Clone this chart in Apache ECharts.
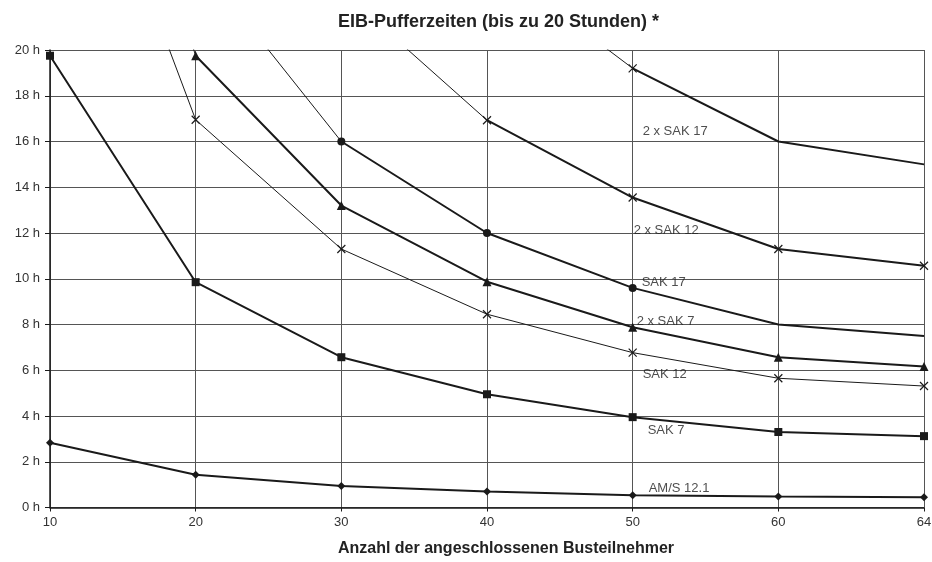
<!DOCTYPE html>
<html><head><meta charset="utf-8">
<script src="https://cdn.jsdelivr.net/npm/echarts@6/dist/echarts.min.js"></script>
<style>html,body{margin:0;padding:0;background:#fff}#c{width:932px;height:562px}</style>
</head><body><div id="c"></div>
<script>
// ---- data ----
const categories = ['10', '20', '30', '40', '50', '60', '64'];
const amS121  = [2.83, 1.43, 0.94, 0.70, 0.54, 0.48, 0.45];
const sak7    = [19.75, 9.85, 6.57, 4.95, 3.95, 3.30, 3.12];
const sak12   = [33.9, 16.95, 11.3, 8.45, 6.77, 5.65, 5.31];
const sak7x2  = [39.5, 19.75, 13.2, 9.87, 7.88, 6.57, 6.16];
const sak17   = [48, 24, 16, 12, 9.6, 8.0, 7.5];
const sak12x2 = [67.8, 33.9, 22.6, 16.93, 13.55, 11.3, 10.57];
const sak17x2 = [96, 48, 32, 24, 19.2, 16.0, 15.0];
const yMin = 0, yMax = 20, yStep = 2;
const titleText = 'EIB-Pufferzeiten (bis zu 20 Stunden) *';
const xName = 'Anzahl der angeschlossenen Busteilnehmer';

// ---- styles ----
const INK = '#1a1a1a';
const FONT = 'Liberation Sans, Arial, sans-serif';
const CROSS = 'path://M0,0L10,10M10,0L0,10';
const curves = [
  {name: 'AM/S 12.1',  data: amS121,  symbol: 'diamond',  size: 8, thinAll: false, marks: [0,1,2,3,4,5,6], labelY: 0.85, gap: 16},
  {name: 'SAK 7',      data: sak7,    symbol: 'rect',     size: 8, thinAll: false, marks: [0,1,2,3,4,5,6], labelY: 3.36, gap: 15},
  {name: 'SAK 12',     data: sak12,   symbol: CROSS,      size: 8, thinAll: true,  marks: [1,2,3,4,5,6],   labelY: 5.8,  gap: 10},
  {name: '2 x SAK 7',  data: sak7x2,  symbol: 'triangle', size: 9, thinAll: false, marks: [1,2,3,4,5,6],   labelY: 8.12, gap: 4},
  {name: 'SAK 17',     data: sak17,   symbol: 'circle',   size: 8, thinAll: false, marks: [2,3,4],         labelY: 9.83, gap: 9},
  {name: '2 x SAK 12', data: sak12x2, symbol: CROSS,      size: 8, thinAll: false, marks: [3,4,5,6],       labelY: 12.1, gap: 1},
  {name: '2 x SAK 17', data: sak17x2, symbol: CROSS,      size: 8, thinAll: false, marks: [4],             labelY: 16.42, gap: 10}
];

const series = [];
curves.forEach(c => {
  const isCross = c.symbol === CROSS;
  const item = (v, i) => c.marks.includes(i) ? {value: v} : {value: v, symbol: 'none'};
  const base = {
    type: 'line', symbol: c.symbol, symbolSize: c.size, clip: true, silent: true,
    itemStyle: {color: isCross ? 'rgba(0,0,0,0)' : INK, borderColor: INK, borderWidth: isCross ? 1.2 : 0},
    animation: false
  };
  if (c.thinAll) {
    series.push(Object.assign({}, base, {name: c.name, data: c.data.map(item), lineStyle: {color: INK, width: 1}}));
  } else {
    const k = c.data.findIndex(v => v <= yMax);
    if (k > 0) {
      series.push(Object.assign({}, base, {name: c.name + ' (ext)', symbol: 'none',
        data: c.data.map((v, i) => i <= k ? v : null), lineStyle: {color: INK, width: 1}}));
    }
    series.push(Object.assign({}, base, {name: c.name,
      data: c.data.map((v, i) => i >= k ? item(v, i) : null), lineStyle: {color: INK, width: 2}}));
  }
  series.push({
    type: 'scatter', name: c.name + ' label', silent: true, animation: false, symbolSize: 0, z: 5,
    data: [{value: ['50', c.labelY]}],
    label: {show: true, position: 'right', distance: c.gap, formatter: c.name,
      color: '#222', fontSize: 13, fontFamily: FONT}
  });
});

const chart = echarts.init(document.getElementById('c'), null, {renderer: 'canvas'});
chart.setOption({
  backgroundColor: '#fff',
  animation: false,
  title: {text: titleText, left: 333, top: 8,
    textStyle: {fontSize: 18, fontWeight: 'bold', color: '#222', fontFamily: FONT}},
  grid: {left: 50, right: 8, top: 50, bottom: 54.5, containLabel: false, outerBoundsMode: 'none'},
  xAxis: {
    type: 'category', data: categories, boundaryGap: false,
    name: xName, nameLocation: 'middle', nameGap: 33,
    nameTextStyle: {fontSize: 16, fontWeight: 'bold', color: '#222', fontFamily: FONT, padding: [0, 0, 0, 38]},
    axisLine: {lineStyle: {color: INK, width: 1.5}},
    axisTick: {show: true, alignWithLabel: true, length: 4, lineStyle: {color: INK}},
    axisLabel: {color: '#333', fontSize: 13, margin: 8, fontFamily: FONT},
    splitLine: {show: true, lineStyle: {color: '#555', width: 1}}
  },
  yAxis: {
    type: 'value', min: yMin, max: yMax, interval: yStep,
    axisLine: {show: true, lineStyle: {color: INK, width: 1.5}},
    axisTick: {show: true, length: 5, lineStyle: {color: INK}},
    axisLabel: {color: '#333', fontSize: 13, margin: 10, formatter: '{value} h', fontFamily: FONT},
    splitLine: {show: true, lineStyle: {color: '#555', width: 1}}
  },
  series: series
});
</script>
</body></html>
